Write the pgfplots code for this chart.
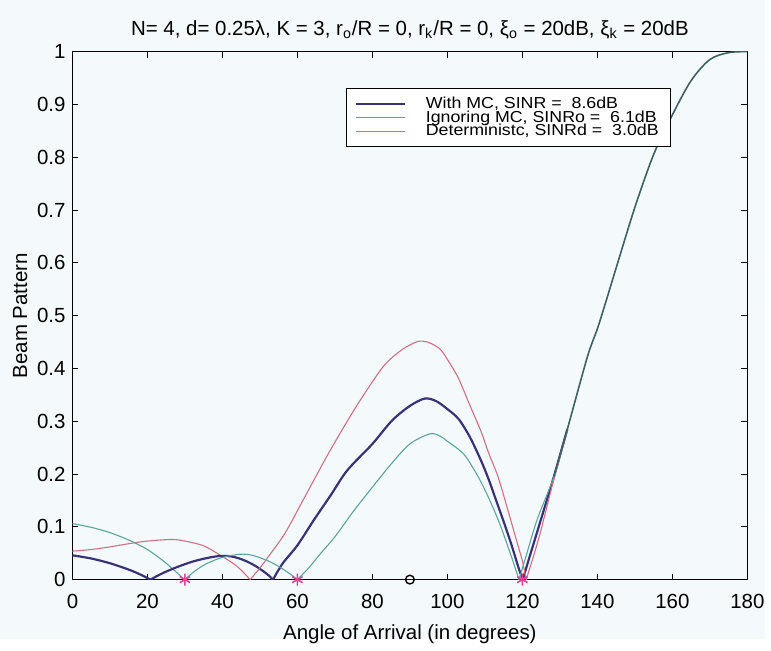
\documentclass[border=0pt]{standalone}
\usepackage{pgfplots}
\pgfplotsset{compat=1.18}
\usepackage{fontspec}
\setmainfont{Liberation Sans}
\newfontfamily\legfont[FakeStretch=1.12]{Liberation Sans}
\definecolor{bg}{RGB}{244,250,251}
\definecolor{cblue}{RGB}{58,50,118}
\definecolor{cred}{RGB}{205,112,130}
\definecolor{cgreen}{RGB}{92,162,160}
\definecolor{ctail}{RGB}{62,96,100}
\definecolor{cstar}{RGB}{232,64,152}
\begin{document}
\begin{tikzpicture}
\fill[bg] (-36.5pt,-30pt) rectangle (349pt,292pt);
\begin{axis}[
  at={(0pt,0pt)}, anchor=south west,
  scale only axis, width=340pt, height=266pt,
  xmin=0, xmax=180, ymin=0, ymax=1,
  xtick={0,20,...,180}, ytick={0,0.1,...,1},
  yticklabel style={/pgf/number format/fixed,/pgf/number format/precision=1},
  xticklabel style={yshift=-4pt},
  /pgf/number format/assume math mode=true,
  tick align=inside, tick style={black, line width=0.5pt},
  major tick length=3pt,
  axis line style={black, line width=0.6pt},
  axis background/.style={fill=bg},
  font=\fontsize{10.3}{11}\selectfont,
  ticklabel style={font=\fontsize{10.3}{11}\selectfont},
  xlabel={Angle of Arrival (in degrees)},
  ylabel={Beam Pattern},
  xlabel style={yshift=-1pt},
  ylabel style={yshift=-2pt},
  title={N= 4, d= 0.25λ, K = 3, r\textsubscript{o}/R = 0, r\textsubscript{k}/R = 0, ξ\textsubscript{o} = 20dB, ξ\textsubscript{k} = 20dB},
  title style={yshift=-3pt},
  legend style={at={(0.887,0.932)}, anchor=north east, draw=black, fill=white,
    line width=0.5pt, font=\legfont\fontsize{8}{7}\selectfont, inner xsep=4pt, inner ysep=4.5pt, row sep=0pt,
    nodes={text height=5.8pt, text depth=1.1pt, inner ysep=0pt, inner xsep=2pt},
    /tikz/every odd column/.append style={column sep=8pt}},
  legend cell align=left,
  legend image post style={xscale=1.45},
]
% first lobes (legend)
\addplot[cblue, line width=1.1pt, smooth, tension=0.5] coordinates {
(0,0.046)(5,0.040)(10,0.031)(15,0.019)(18,0.010)(20.8,0.000)};
\addlegendentry{With MC, SINR =\ \ 8.6dB}
\addplot[cred, line width=0.55pt, smooth, tension=0.5] coordinates {
(0,0.054)(5,0.057)(10,0.062)(15,0.068)(20,0.073)(26.5,0.076)(30,0.073)(35,0.064)(39.7,0.045)(43,0.030)(45,0.018)(47.4,0.000)};
\addlegendentry{Ignoring MC, SINRo =\ \ 6.1dB}
\addplot[cgreen, line width=0.55pt, smooth, tension=0.5] coordinates {
(0,0.106)(5,0.099)(10,0.089)(15,0.075)(20,0.057)(25,0.031)(29.9,0.000)};
\addlegendentry{Deterministc, SINRd =\ \ 3.0dB}
% remaining lobes
\addplot[cblue, line width=1.1pt, smooth, tension=0.5, forget plot] coordinates {
(20.8,0.000)(24,0.012)(28,0.024)(32,0.034)(36,0.041)(39.7,0.045)(43,0.043)(46,0.036)(49,0.025)(52,0.010)(53.5,0.000)};
\addplot[cblue, line width=1.1pt, smooth, tension=0.5, forget plot] coordinates {
(53.5,0.000)(56,0.030)(60,0.065)(64.4,0.113)(68.9,0.160)(73.3,0.207)(80,0.257)(85.2,0.301)(90,0.329)(94,0.343)(97,0.338)(100,0.323)(103,0.304)(106,0.270)(109,0.225)(111,0.190)(113,0.150)(115,0.110)(117,0.068)(119,0.022)(120.1,0.000)};
\addplot[cblue, line width=1.1pt, smooth, tension=0.5, forget plot] coordinates {
(120.1,0.000)(122,0.045)(125,0.115)(128.4,0.195)(132,0.285)};
\addplot[cred, line width=0.55pt, smooth, tension=0.5, forget plot] coordinates {
(47.4,0.000)(50,0.022)(52.3,0.044)(56.7,0.088)(62,0.157)(68.2,0.238)(74.4,0.313)(78.9,0.363)(83.3,0.407)(87.8,0.435)(92.1,0.451)(95,0.449)(98,0.437)(100,0.417)(102.9,0.382)(106,0.330)(109,0.280)(111,0.240)(113.5,0.195)(116,0.135)(118,0.085)(120,0.035)(121,0.000)};
\addplot[cred, line width=0.55pt, smooth, tension=0.5, forget plot] coordinates {
(121,0.000)(123,0.045)(125,0.095)(128.4,0.190)(132,0.282)};
\addplot[cgreen, line width=0.55pt, smooth, tension=0.5, forget plot] coordinates {
(29.9,0.000)(33,0.018)(36,0.031)(40,0.042)(44.6,0.048)(48,0.046)(52,0.036)(55,0.025)(58,0.011)(60,0.000)};
\addplot[cgreen, line width=0.55pt, smooth, tension=0.5, forget plot] coordinates {
(60,0.000)(63,0.022)(66,0.048)(70,0.081)(75,0.130)(80,0.175)(85,0.219)(90,0.257)(95.3,0.276)(98,0.272)(100,0.262)(102.9,0.247)(105,0.232)(108.2,0.195)(111,0.155)(114,0.105)(117,0.045)(119.1,0.000)};
\addplot[cgreen, line width=0.55pt, smooth, tension=0.5, forget plot] coordinates {
(119.1,0.000)(121,0.045)(124,0.115)(128.4,0.195)(132,0.285)};
% common main-beam rise (all three coincide)
\addplot[ctail, line width=0.8pt, smooth, tension=0.5, forget plot] coordinates {
(128.4,0.195)(132,0.285)(137.3,0.421)(140,0.475)(142,0.520)(145,0.590)(150,0.705)(155,0.805)(160,0.880)(165,0.945)(170,0.985)(175,0.998)(180,1.000)};
\addplot[only marks, mark=asterisk, mark size=3pt, cstar, line width=0.8pt, forget plot] coordinates {(30,0)(60,0)(120,0)};
\addplot[only marks, mark=o, mark size=2.2pt, black, line width=0.7pt, forget plot] coordinates {(90,0)};
\end{axis}
\end{tikzpicture}
\end{document}
